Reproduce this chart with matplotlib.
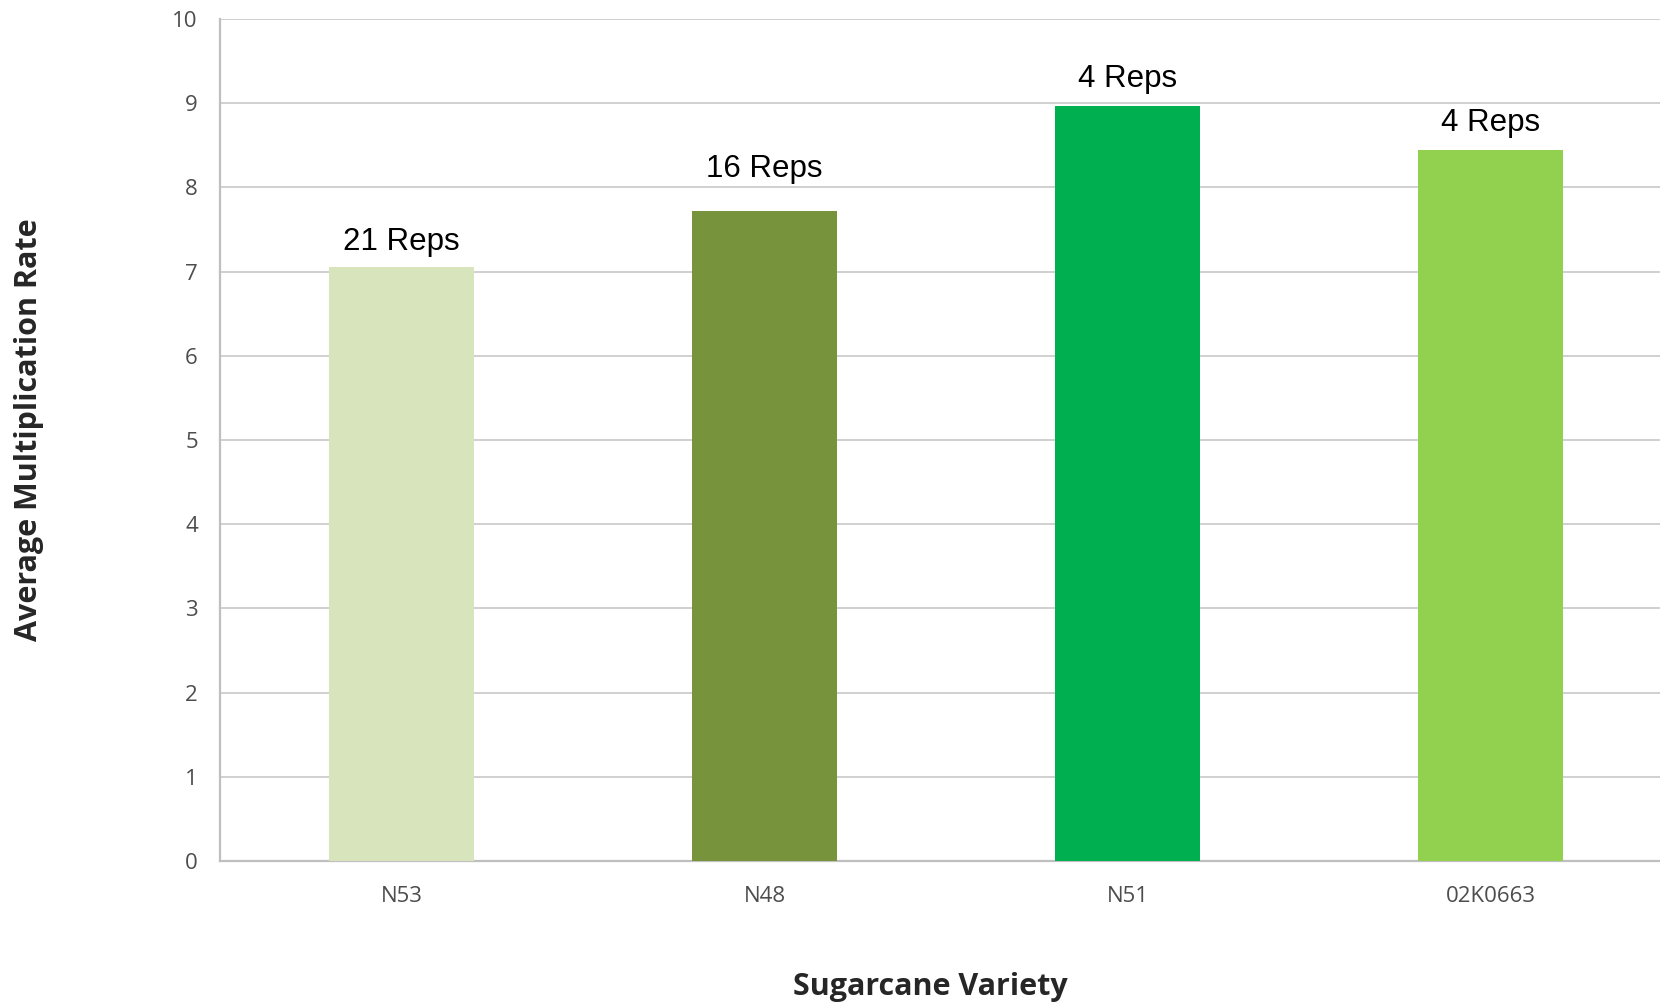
import matplotlib.pyplot as plt
import numpy as np

varieties = ["N53", "N48", "N51", "02K0663"]
mult_rate = [7.06, 7.72, 8.97, 8.45]
reps = [21, 16, 4, 4]
bar_colors = ["#D8E4BC", "#77933C", "#00B050", "#92D050"]
y_ticks = list(range(0, 11))

fig = plt.figure(figsize=(16.6, 10.05), dpi=100)
ax = fig.add_axes([220 / 1660, 1 - 861 / 1005, 1452 / 1660, 842 / 1005])

x = np.arange(len(varieties))
bars = ax.bar(x, mult_rate, width=0.4, color=bar_colors, zorder=3)

# rep-count labels sit at slightly different heights above each bar
label_lift = [25, 42, 27, 27]
for rect, n, lift in zip(bars, reps, label_lift):
    ax.annotate(f"{n} Reps", (rect.get_x() + rect.get_width() / 2, rect.get_height()),
                xytext=(0, lift), textcoords="offset pixels", ha="center", va="center",
                fontsize=22.5, family="Liberation Sans", color="black")

ax.set_xlim(-0.5, 3.5)
ax.set_ylim(0, 10)
ax.set_yticks(y_ticks)
ax.set_xticks(x)
ax.set_xticklabels(varieties)
ax.yaxis.grid(True, color="#D0D0D0", linewidth=1.4, zorder=0)
ax.set_axisbelow(True)

for side in ["top", "right"]:
    ax.spines[side].set_visible(False)
for side in ["left", "bottom"]:
    ax.spines[side].set_color("#BFBFBF")
    ax.spines[side].set_linewidth(1.6)

ax.tick_params(length=0, labelsize=16, labelcolor="#4D4D4D")
ax.tick_params(axis="y", pad=16)
ax.tick_params(axis="x", pad=18)
for lbl in ax.get_xticklabels() + ax.get_yticklabels():
    lbl.set_family("Open Sans")

fig.text(930 / 1660, 1 - 987 / 1005, "Sugarcane Variety", ha="center", va="center",
         fontsize=22, fontweight="bold", family="Open Sans", color="#262626")
fig.text(29 / 1660, 1 - 430 / 1005, "Average Multiplication Rate", ha="center", va="center",
         rotation=90, fontsize=22, fontweight="bold", family="Open Sans", color="#262626")

fig.savefig("out.png", dpi=100)
